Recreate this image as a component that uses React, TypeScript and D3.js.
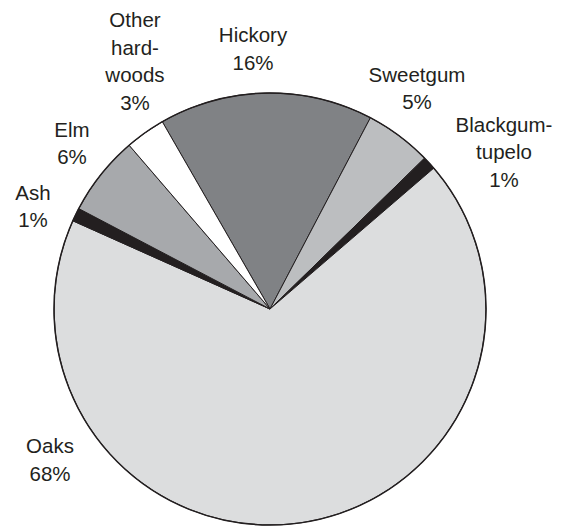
import React from "react";
import * as d3 from "d3";

// Species composition (percent of total), listed clockwise starting at Hickory
const species = ["Hickory", "Sweetgum", "Blackgum-tupelo", "Oaks", "Ash", "Elm", "Other hardwoods"];
const shares = [16, 5, 1, 68, 1, 6, 3];
const fills = ["#808285", "#bcbec0", "#231f20", "#dcddde", "#231f20", "#a7a9ac", "#ffffff"];

// Label text lines, one entry per species
const labelLines = [
  ["Hickory"],
  ["Sweetgum"],
  ["Blackgum-", "tupelo"],
  ["Oaks"],
  ["Ash"],
  ["Elm"],
  ["Other", "hard-", "woods"],
];

// Label anchors: centre x and first-line baseline y
const labelAnchors: [number, number][] = [
  [253, 42.3],
  [417, 81.7],
  [504, 131.7],
  [50, 453.3],
  [33, 200],
  [72, 136.7],
  [135, 27.3],
];

const W = 562;
const H = 531;
const cx = 270;
const cy = 309;
const radius = 216;
const lineGap = 27.4;
const startDeg = -29.9;

export default function App() {
  const start = (startDeg * Math.PI) / 180;
  const pie = d3
    .pie<number>()
    .sort(null)
    .value((d) => d)
    .startAngle(start)
    .endAngle(start + 2 * Math.PI);
  const arcs = pie(shares);
  const arc = d3.arc<d3.PieArcDatum<number>>().innerRadius(0).outerRadius(radius);

  return (
    <svg
      width={W}
      height={H}
      style={{ position: "absolute", left: 0, top: 0, background: "#fff" }}
    >
      <g transform={`translate(${cx},${cy})`}>
        {arcs.map((a, i) => (
          <path
            key={species[i]}
            d={arc(a) || ""}
            fill={fills[i]}
            stroke="#231f20"
            strokeWidth={1}
            strokeLinejoin="round"
          />
        ))}
        <circle r={radius} fill="none" stroke="#231f20" strokeWidth={1.5} />
      </g>
      <g
        fontFamily="'Liberation Sans', Arial, Helvetica, sans-serif"
        fontSize={20.5}
        fill="#231f20"
        textAnchor="middle"
      >
        {species.map((name, i) => {
          const [x, y] = labelAnchors[i];
          const lines = [...labelLines[i], `${shares[i]}%`];
          return (
            <text key={name} x={x} y={y}>
              {lines.map((t, j) => (
                <tspan key={j} x={x} y={y + j * lineGap}>
                  {t}
                </tspan>
              ))}
            </text>
          );
        })}
      </g>
    </svg>
  );
}
